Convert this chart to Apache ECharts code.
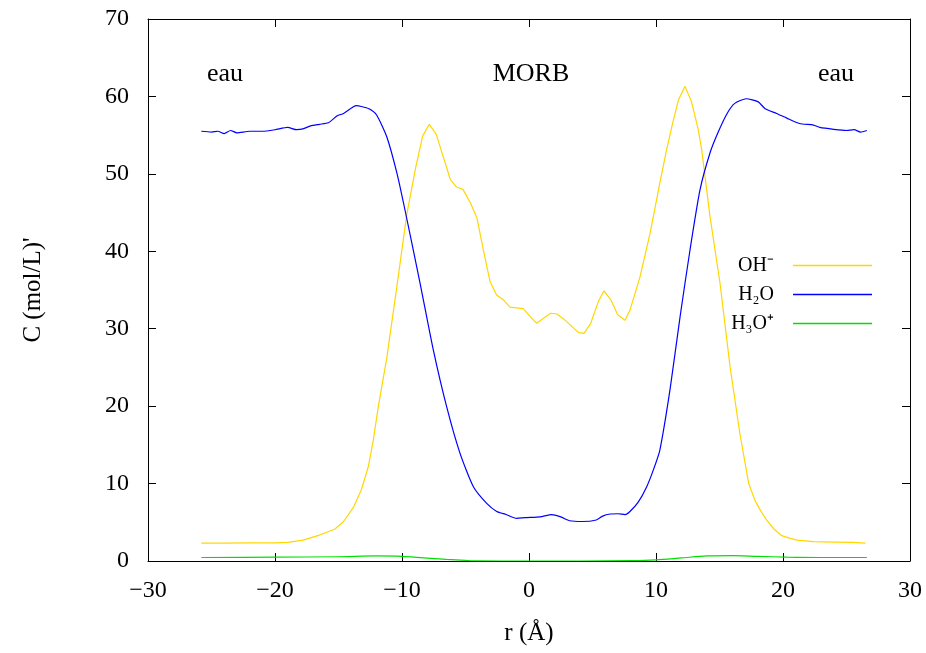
<!DOCTYPE html>
<html>
<head>
<meta charset="utf-8">
<script src="https://cdn.jsdelivr.net/npm/echarts@6/dist/echarts.min.js"></script>
<style>html,body{margin:0;padding:0;background:#fff}#c{width:926px;height:653px}</style>
</head>
<body>
<div id="c"></div>
<script>
// ---- data ----
const rOH = [-25.8,-24,-22,-20,-19,-17.8,-16.5,-15.3,-14.6,-13.8,-13.2,-12.65,-12.26,-11.87,-11.5,-11.2,-10.4,-9.63,-8.9,-8.37,-7.85,-7.3,-6.75,-6.2,-5.7,-5.2,-4.6,-4.1,-3.6,-3.07,-2.55,-2.0,-1.5,-0.45,0.08,0.6,1.7,2.2,2.7,3.9,4.33,4.86,5.46,5.9,6.46,6.98,7.56,7.95,8.74,9.53,10.3,10.83,11.3,11.76,12.28,12.8,13.33,13.6,14.25,15.04,15.83,16.6,17.3,17.8,18.2,18.7,19.3,19.9,20.5,21.1,22.4,24,25.5,26.5];
const cOH = [2.3,2.3,2.35,2.35,2.4,2.7,3.35,4.1,5.1,7.0,9.2,12.2,15.6,19.9,23.4,26.2,35.5,44.7,51,54.9,56.4,55.1,52.2,49.3,48.3,48.0,46.2,44.3,40.2,36.1,34.35,33.7,32.8,32.6,31.6,30.7,32.0,31.9,31.3,29.5,29.4,30.7,33.5,34.9,33.7,31.8,31.1,32.4,36.7,42.3,48.8,53.1,56.5,59.5,61.3,59.3,55.7,53.1,44.5,35.9,25.1,16.5,10.0,7.8,6.6,5.3,4.1,3.27,2.95,2.7,2.5,2.45,2.4,2.3];

const rH2O = [-25.8,-25,-24.5,-24,-23.5,-23,-22,-21,-20,-19,-18.3,-17.8,-17.2,-16.5,-15.8,-15.1,-14.6,-13.6,-13.2,-12.6,-12,-11.2,-10.4,-9.76,-8.58,-7.54,-6.48,-5.43,-4.38,-3.33,-2.54,-1.8,-0.97,-0.3,0.87,1.78,2.5,3.2,4.2,5.3,5.8,6.4,7.0,7.56,7.95,8.6,9.27,9.8,10.3,11.1,11.9,12.68,13.46,14.25,14.9,15.6,16.2,17.1,18.05,18.6,19.5,20.3,21.3,22.4,22.9,24.0,25.0,25.6,26.1,26.6];
const cH2O = [55.5,55.4,55.5,55.2,55.6,55.3,55.5,55.5,55.7,56.0,55.7,55.8,56.2,56.4,56.6,57.5,57.8,58.8,58.7,58.4,57.6,54.8,50.1,45.3,35.9,27.3,19.9,13.9,9.6,7.45,6.4,6.0,5.5,5.6,5.7,6.0,5.7,5.2,5.1,5.3,5.8,6.07,6.1,6.0,6.4,7.6,9.6,11.8,14.3,22.1,31.6,40.2,47.9,52.7,55.4,57.8,59.1,59.7,59.3,58.4,57.8,57.2,56.5,56.3,56.0,55.75,55.6,55.7,55.4,55.6];

const rH3O = [-25.8,-20,-15,-12,-10,-8.3,-6.5,-5,-4,0,4,8,10,12,14,16,18,20.3,23,26.6];
const cH3O = [0.45,0.5,0.55,0.65,0.6,0.4,0.2,0.08,0.02,0,0,0.05,0.15,0.4,0.65,0.7,0.6,0.5,0.45,0.45];

const xTicks = {min:-30, max:30, step:10};
const yTicks = {min:0, max:70, step:10};
const names = ['OH⁻','H₂O','H₃O⁺'];
const regionLabels = ['eau','MORB','eau'];

const pairs = (xs, ys) => xs.map((x,i)=>[x, ys[i]]);
const FONT = 'Liberation Serif';
const fmt = v => String(v).replace('-', '−');

const chart = echarts.init(document.getElementById('c'), null, {renderer:'canvas'});
const axisCommon = {
  axisLine:{show:true, onZero:false, lineStyle:{color:'#000', width:1}},
  axisTick:{show:true, inside:true, length:8, lineStyle:{color:'#000'}},
  splitLine:{show:false}
};
chart.setOption({
  animation:false,
  backgroundColor:'#fff',
  grid:{left:148, right:16, top:19, bottom:92, containLabel:false, outerBoundsMode:'none'},
  xAxis:[
    Object.assign({type:'value', position:'bottom', min:xTicks.min, max:xTicks.max, interval:xTicks.step,
      name:'r (Å)', nameLocation:'middle', nameGap:60,
      nameTextStyle:{fontFamily:FONT, fontSize:25, color:'#000'},
      axisLabel:{fontFamily:FONT, fontSize:24, color:'#000', margin:18, formatter:fmt}}, axisCommon),
    Object.assign({type:'value', position:'top', min:xTicks.min, max:xTicks.max, interval:xTicks.step,
      axisLabel:{show:false}}, axisCommon)
  ],
  yAxis:[
    Object.assign({type:'value', position:'left', min:yTicks.min, max:yTicks.max, interval:yTicks.step,
      name:"C (mol/L)'", nameLocation:'middle', nameGap:102, nameRotate:90,
      nameTextStyle:{fontFamily:FONT, fontSize:25, color:'#000'},
      axisLabel:{fontFamily:FONT, fontSize:24, color:'#000', margin:19, formatter:fmt}}, axisCommon),
    Object.assign({type:'value', position:'right', min:yTicks.min, max:yTicks.max, interval:yTicks.step,
      axisLabel:{show:false}}, axisCommon)
  ],
  legend:{
    orient:'vertical', right:49, top:249, align:'right',
    icon:'rect', itemWidth:79, itemHeight:1.5, itemGap:6,
    textStyle:{fontFamily:FONT, fontSize:20, color:'#000', lineHeight:23, padding:[0,14,0,0]},
    data:names
  },
  graphic:[
    {type:'text', x:225, y:74, style:{text:regionLabels[0], font:'26px "Liberation Serif"', fill:'#000', align:'center', verticalAlign:'middle'}},
    {type:'text', x:531, y:74, style:{text:regionLabels[1], font:'26px "Liberation Serif"', fill:'#000', align:'center', verticalAlign:'middle'}},
    {type:'text', x:836, y:74, style:{text:regionLabels[2], font:'26px "Liberation Serif"', fill:'#000', align:'center', verticalAlign:'middle'}}
  ],
  series:[
    {name:names[0], type:'line', data:pairs(rOH,cOH), showSymbol:false, symbol:'none', lineStyle:{color:'#FFD700', width:1.2}, itemStyle:{color:'#FFD700'}},
    {name:names[1], type:'line', data:pairs(rH2O,cH2O), showSymbol:false, symbol:'none', smooth:0.2, lineStyle:{color:'#0000FF', width:1.2}, itemStyle:{color:'#0000FF'}},
    {name:names[2], type:'line', data:pairs(rH3O,cH3O), showSymbol:false, symbol:'none', smooth:0.3, lineStyle:{color:'#00E000', width:1.2}, itemStyle:{color:'#00E000'}}
  ]
});
</script>
</body>
</html>
